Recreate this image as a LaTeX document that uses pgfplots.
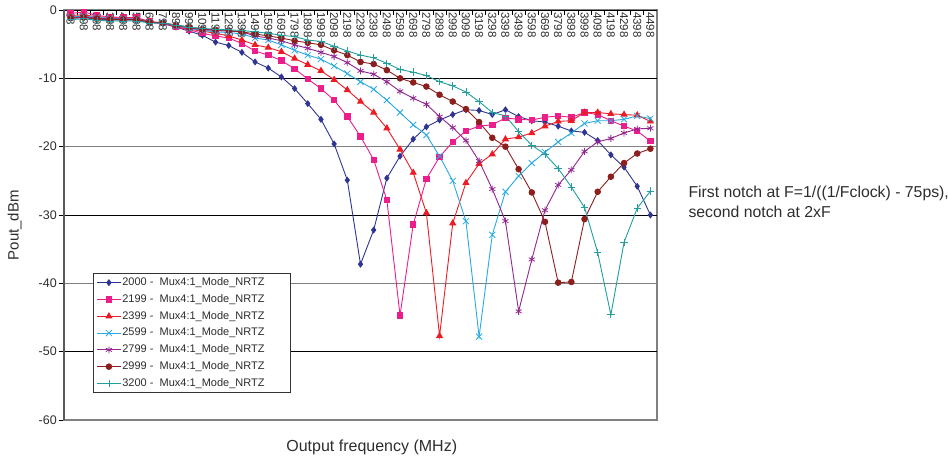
\documentclass[border=0pt]{standalone}
\usepackage{fontspec}
\setmainfont{Liberation Sans}
\usepackage{pgfplots}
\usepackage{pgfplotstable}
\pgfplotsset{compat=1.18}

\definecolor{cBlue}{RGB}{46,52,146}
\definecolor{cPink}{RGB}{236,30,140}
\definecolor{cRed}{RGB}{237,28,36}
\definecolor{cCyan}{RGB}{41,171,226}
\definecolor{cPurple}{RGB}{146,39,143}
\definecolor{cBrown}{RGB}{140,30,30}
\definecolor{cTeal}{RGB}{34,158,158}
\definecolor{txt}{RGB}{45,45,45}

\pgfplotstableread{
i b p r c u w t
0 -1.2 -0.5 -0.8 -1.0 -1.1 -1.2 -1.4
1 -1.1 -0.3 -0.7 -0.9 -1.0 -1.1 -1.3
2 -1.3 -0.8 -1.0 -1.1 -1.2 -1.3 -1.5
3 -1.4 -1.0 -1.1 -1.2 -1.3 -1.4 -1.6
4 -1.4 -1.1 -1.2 -1.3 -1.3 -1.4 -1.6
5 -1.5 -1.1 -1.2 -1.3 -1.4 -1.4 -1.6
6 -1.8 -1.7 -1.7 -1.8 -1.8 -1.8 -1.9
7 -2.0 -1.9 -1.9 -1.9 -1.9 -1.9 -1.9
8 -2.5 -2.5 -2.4 -2.3 -2.3 -2.2 -2.2
9 -3.1 -2.9 -2.8 -2.7 -2.6 -2.5 -2.5
10 -3.7 -3.4 -3.1 -3.0 -2.9 -2.8 -2.7
11 -4.7 -3.8 -3.4 -3.2 -3.0 -2.9 -2.8
12 -5.2 -4.1 -3.8 -3.3 -3.1 -3.0 -2.9
13 -6.2 -4.9 -4.4 -3.5 -3.2 -3.2 -3.0
14 -7.6 -6.0 -5.1 -4.1 -3.8 -3.5 -3.2
15 -8.5 -6.6 -5.5 -4.4 -4.1 -3.8 -3.4
16 -9.8 -7.4 -6.1 -5.1 -4.5 -4.1 -3.7
17 -11.5 -8.6 -7.1 -5.9 -5.1 -4.5 -3.9
18 -13.7 -10.1 -8.0 -6.6 -5.6 -4.8 -4.4
19 -16.0 -11.5 -8.9 -7.2 -6.2 -5.1 -4.6
20 -19.6 -13.2 -10.2 -8.2 -6.8 -5.9 -5.3
21 -24.9 -15.6 -11.7 -9.3 -7.7 -6.6 -6.0
22 -37.2 -18.5 -13.4 -10.5 -8.9 -7.6 -6.6
23 -32.2 -21.9 -15.0 -11.6 -9.4 -7.9 -7.0
24 -24.6 -27.8 -17.3 -13.2 -10.5 -8.8 -7.8
25 -21.4 -44.7 -20.4 -15.0 -11.9 -10.0 -8.7
26 -18.9 -31.4 -23.8 -16.8 -12.9 -10.6 -9.1
27 -17.1 -24.7 -29.7 -18.3 -13.8 -11.2 -9.6
28 -16.1 -21.5 -47.7 -21.4 -15.6 -12.4 -10.5
29 -15.3 -19.3 -31.2 -25.0 -17.2 -13.4 -11.1
30 -14.6 -17.7 -25.3 -30.9 -19.1 -14.5 -12.0
31 -14.7 -17.0 -22.5 -47.8 -22.1 -16.4 -13.4
32 -15.3 -16.8 -21.1 -32.9 -26.2 -18.7 -15.0
33 -14.6 -15.8 -18.9 -26.6 -30.9 -20.0 -15.5
34 -15.6 -16.0 -18.6 -24.3 -44.1 -23.3 -17.8
35 -16.2 -16.1 -18.0 -22.4 -36.5 -26.7 -19.8
36 -16.4 -15.7 -17.0 -20.8 -29.3 -31.0 -21.1
37 -17.0 -15.5 -16.3 -19.3 -25.6 -39.9 -23.2
38 -17.7 -15.7 -16.2 -18.0 -23.4 -39.8 -25.9
39 -17.9 -15.0 -15.0 -16.6 -20.7 -30.6 -28.9
40 -19.1 -15.3 -15.0 -16.2 -19.3 -26.6 -35.5
41 -21.2 -16.2 -15.2 -16.2 -18.8 -24.4 -44.6
42 -23.0 -17.0 -15.3 -16.0 -18.0 -22.4 -34.0
43 -25.8 -17.7 -15.4 -15.5 -17.4 -21.0 -29.0
44 -30.0 -19.2 -16.3 -15.9 -17.3 -20.3 -26.5
}\data

\begin{document}
\begin{tikzpicture}
\useasboundingbox (0,0) rectangle (948pt,461pt);
\begin{axis}[
  at={(64pt,41pt)}, anchor=south west,
  scale only axis, width=593pt, height=410pt,
  xmin=-0.5, xmax=44.5, ymin=-60, ymax=0,
  clip=false,
  axis line style={draw=black!50, line width=1.1pt},
  xtick={0,...,44},
  xticklabels={98,198,298,398,498,598,698,798,898,998,1098,1198,1298,1398,1498,1598,1698,1798,1898,1998,2098,2198,2298,2398,2498,2598,2698,2798,2898,2998,3098,3198,3298,3398,3498,3598,3698,3798,3898,3998,4098,4198,4298,4398,4498},
  xtick pos=right, xticklabel pos=right,
  xtick align=inside,
  major x tick style={draw=none},
  minor xtick={-0.5,0.5,...,44.5},
  minor x tick style={draw=black, line width=0.8pt},
  minor tick length=5pt,
  xticklabel style={rotate=-90, anchor=west, inner sep=2pt, font=\fontsize{11.5}{12}\selectfont, text=txt},
  ytick={-60,-40,-20,0},
  yticklabels={-60,-40,-20,0},
  extra y ticks={-50,-30,-10},
  extra y tick labels={-50,-30,-10},
  extra y tick style={grid=major, major grid style={draw=black, line width=0.9pt}},
  ytick pos=left, ytick align=outside,
  major tick length=5pt,
  major y tick style={draw=black, line width=0.8pt},
  ymajorgrids=true,
  major grid style={draw=black!50, line width=1.2pt},
  yticklabel style={font=\fontsize{12.5}{14}\selectfont, text=txt, inner sep=2pt},
  xlabel={Output frequency (MHz)},
  xlabel style={at={(axis description cs:0.519,-0.066)}, anchor=center, font=\fontsize{16}{19}\selectfont, text=txt},
  ylabel={Pout\_dBm},
  ylabel style={at={(axis description cs:-0.083,0.475)}, anchor=center, font=\fontsize{15}{18}\selectfont, text=txt},
  legend style={at={(0.049,0.3585)}, anchor=north west, draw=black!80, line width=0.8pt,
     font=\fontsize{11}{13}\selectfont, text=txt, row sep=4.3pt, inner sep=3pt,
     nodes={inner sep=1pt, text height=8pt, text depth=2.5pt}},
  legend cell align=left,
  legend image code/.code={\draw[mark repeat=2,mark phase=2] plot coordinates {(0pt,0pt) (12pt,0pt) (24pt,0pt)};},
  every axis plot/.append style={line width=0.9pt},
]
\addplot[cBlue, mark=diamond*, mark size=2.8pt, mark options={fill=cBlue}] table[x=i,y=b] {\data};
\addlegendentry{2000 -\ \ Mux4:1\_Mode\_NRTZ\hspace*{22pt}}
\addplot[cPink, mark=square*, mark size=2.7pt, mark options={fill=cPink}] table[x=i,y=p] {\data};
\addlegendentry{2199 -\ \ Mux4:1\_Mode\_NRTZ}
\addplot[cRed, mark=triangle*, mark size=3.3pt, mark options={fill=cRed}] table[x=i,y=r] {\data};
\addlegendentry{2399 -\ \ Mux4:1\_Mode\_NRTZ}
\addplot[cCyan, mark=x, mark size=4.3pt, mark options={line width=0.8pt}] table[x=i,y=c] {\data};
\addlegendentry{2599 -\ \ Mux4:1\_Mode\_NRTZ}
\addplot[cPurple, mark=asterisk, mark size=3.5pt, mark options={line width=0.8pt}] table[x=i,y=u] {\data};
\addlegendentry{2799 -\ \ Mux4:1\_Mode\_NRTZ}
\addplot[cBrown, mark=*, mark size=2.8pt, mark options={fill=cBrown}] table[x=i,y=w] {\data};
\addlegendentry{2999 -\ \ Mux4:1\_Mode\_NRTZ}
\addplot[cTeal, mark=+, mark size=3.7pt, mark options={line width=0.8pt}] table[x=i,y=t] {\data};
\addlegendentry{3200 -\ \ Mux4:1\_Mode\_NRTZ}
\draw[black, line width=1pt] (rel axis cs:0,1) -- (rel axis cs:1,1);
\draw[black!65, line width=1.8pt] (rel axis cs:0,0) -- (rel axis cs:0,1);
\end{axis}
\node[anchor=west, align=left, font=\fontsize{15.8}{20}\selectfont, text=txt] at (685pt,259pt)
  {First notch at F=1/((1/Fclock) - 75ps),\\second notch at 2xF};
\end{tikzpicture}
\end{document}
